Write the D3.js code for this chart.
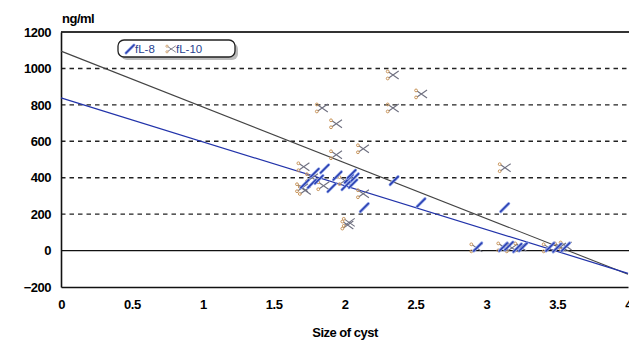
<!DOCTYPE html>
<html lang="en">
<head>
<meta charset="UTF-8">
<title>Size of cyst</title>
<script src="https://d3js.org/d3.v7.js"></script>
<style>
  body { margin: 0; background: #fff; }
  text { font-family: "Liberation Sans", Arial, sans-serif; }
</style>
</head>
<body>
<script>
// IL-8 (blue slash markers)
var il8X = [1.79, 1.86, 1.95, 1.77, 1.72, 1.91, 2.03, 2.07, 2.01, 2.06, 2.05, 1.82, 2.14, 2.35, 2.54, 3.13,
            2.94, 3.12, 3.16, 3.22, 3.26, 3.45, 3.50, 3.56];
var il8Y = [427, 449, 411, 367, 367, 345, 395, 400, 356, 367, 420, 390, 236, 384, 263, 236,
            20, 20, 25, 15, 20, 20, 15, 20];
// IL-10 (scissor markers)
var il10X = [1.84, 1.94, 2.34, 2.54, 2.34, 1.94, 2.13, 1.71, 3.13, 1.70, 1.72, 1.85, 2.00, 2.13, 2.02, 2.03, 1.77,
             2.93, 3.12, 3.18, 3.24, 3.44, 3.52, 3.56];
var il10Y = [783, 696, 964, 860, 783, 526, 559, 460, 455, 345, 330, 356, 384, 312, 140, 155, 400,
             15, 20, 15, 20, 15, 20, 25];
// linear trend lines, values at x = 0 and x = 4
var trendX = [0, 4];
var il8Trend = [838, -125];
var il10Trend = [1095, -130];

var xTicks = [0, 0.5, 1, 1.5, 2, 2.5, 3, 3.5, 4];
var yTicks = [-200, 0, 200, 400, 600, 800, 1000, 1200];
var gridTicks = [200, 400, 600, 800, 1000];

var width = 629, height = 343;
var plotL = 61, plotR = 628, plotT = 32, plotB = 287;

var svg = d3.select("body").append("svg")
    .attr("width", width)
    .attr("height", height);

var x = d3.scaleLinear().domain([0, 4]).range([plotL, plotR]);
var y = d3.scaleLinear().domain([-200, 1200]).range([plotB, plotT]);

// grid
svg.selectAll("line.grid")
    .data(gridTicks)
    .enter().append("line")
    .attr("x1", plotL).attr("x2", width)
    .attr("y1", d => y(d)).attr("y2", d => y(d))
    .attr("stroke", "#222")
    .attr("stroke-width", 1.4)
    .attr("stroke-dasharray", "4.5,4");

// zero line, top frame
svg.append("line").attr("x1", plotL).attr("x2", width)
    .attr("y1", y(0)).attr("y2", y(0))
    .attr("stroke", "#111").attr("stroke-width", 1.3);
svg.append("line").attr("x1", plotL).attr("x2", width)
    .attr("y1", y(1200)).attr("y2", y(1200))
    .attr("stroke", "#333").attr("stroke-width", 1.8);

// axes
var yAxis = d3.axisLeft(y).tickValues(yTicks).tickSize(0).tickPadding(10)
    .tickFormat(d3.format("d"));
var gy = svg.append("g").attr("transform", "translate(" + plotL + ",0)").call(yAxis);
var xAxis = d3.axisBottom(x).tickValues(xTicks).tickSize(0).tickPadding(13)
    .tickFormat(d3.format("~g"));
var gx = svg.append("g").attr("transform", "translate(0," + plotB + ")").call(xAxis);
[gx, gy].forEach(function (g) {
  g.select(".domain").attr("stroke", "#111").attr("stroke-width", 1.6);
  g.selectAll("text")
    .attr("fill", "#000")
    .style("font-size", "13px")
    .style("font-weight", "bold")
    .style("letter-spacing", "-0.5px");
});

svg.append("text").attr("x", 62).attr("y", 23)
    .style("font-size", "13px").style("font-weight", "bold").style("letter-spacing", "-0.5px")
    .text("ng/ml");
svg.append("text").attr("x", 345).attr("y", 337).attr("text-anchor", "middle")
    .style("font-size", "13px").style("font-weight", "bold").style("letter-spacing", "-0.5px")
    .text("Size of cyst");

// trend lines
var line = d3.line().x(d => x(d[0])).y(d => y(d[1]));
svg.append("path")
    .attr("d", line(d3.zip(trendX, il10Trend)))
    .attr("fill", "none").attr("stroke", "#444").attr("stroke-width", 1.1);
svg.append("path")
    .attr("d", line(d3.zip(trendX, il8Trend)))
    .attr("fill", "none").attr("stroke", "#2233aa").attr("stroke-width", 1.2);

// markers
function scissors(g) {
  g.append("path").attr("d", "M-4,-3 L6,4 M-4,3 L6,-4")
    .attr("stroke", "#6f7080").attr("stroke-width", 1.1).attr("fill", "none");
  g.append("circle").attr("cx", -5).attr("cy", -3.5).attr("r", 1.4)
    .attr("stroke", "#c9955a").attr("stroke-width", 1).attr("fill", "none");
  g.append("circle").attr("cx", -5).attr("cy", 3.5).attr("r", 1.4)
    .attr("stroke", "#c9955a").attr("stroke-width", 1).attr("fill", "none");
}
function slash(g) {
  g.append("path").attr("d", "M-4,4 L4,-4")
    .attr("stroke", "#8fa3e8").attr("stroke-width", 3).attr("stroke-linecap", "round");
  g.append("path").attr("d", "M-4,4 L4,-4")
    .attr("stroke", "#2a3fb0").attr("stroke-width", 1.5).attr("stroke-linecap", "round");
}

svg.selectAll("g.il10")
    .data(d3.zip(il10X, il10Y))
    .enter().append("g")
    .attr("class", "il10")
    .attr("transform", d => "translate(" + x(d[0]) + "," + y(d[1]) + ")")
    .each(function () { scissors(d3.select(this)); });

svg.selectAll("g.il8")
    .data(d3.zip(il8X, il8Y))
    .enter().append("g")
    .attr("class", "il8")
    .attr("transform", d => "translate(" + x(d[0]) + "," + y(d[1]) + ")")
    .each(function () { slash(d3.select(this)); });

// legend
var lg = svg.append("g");
lg.append("rect").attr("x", 121).attr("y", 43).attr("width", 117).attr("height", 17)
    .attr("rx", 6).attr("fill", "#bbb");
lg.append("rect").attr("x", 118).attr("y", 40).attr("width", 117).attr("height", 17)
    .attr("rx", 6).attr("fill", "#fff").attr("stroke", "#222").attr("stroke-width", 1.3);
var m1 = lg.append("g").attr("transform", "translate(130,49)");
slash(m1);
lg.append("text").attr("x", 135).attr("y", 53).attr("fill", "#2a3f90")
    .style("font-size", "11.5px").text("fL-8");
var m2 = lg.append("g").attr("transform", "translate(171,49) scale(0.8)");
scissors(m2);
lg.append("text").attr("x", 176).attr("y", 53).attr("fill", "#2a3f90")
    .style("font-size", "11.5px").text("fL-10");
</script>
</body>
</html>
